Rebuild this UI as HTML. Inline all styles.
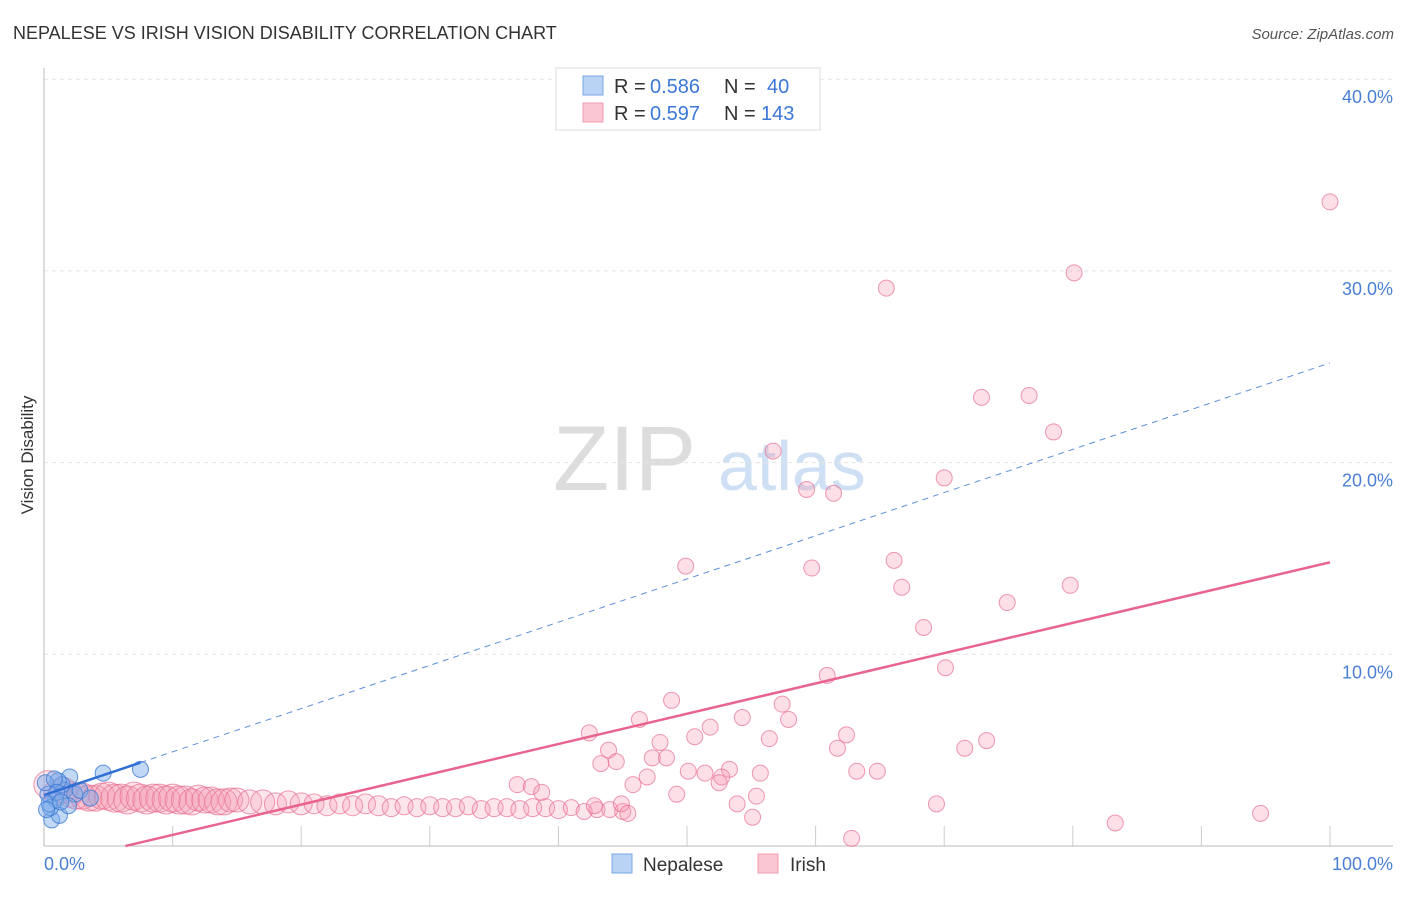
<!DOCTYPE html>
<html><head><meta charset="utf-8"><style>
body{margin:0;background:#fff;font-family:"Liberation Sans",sans-serif;}
svg text{font-family:"Liberation Sans",sans-serif;}
</style></head><body>
<svg id="chart" width="1406" height="892">
<text x="13" y="39" font-size="18" fill="#333">NEPALESE VS IRISH VISION DISABILITY CORRELATION CHART</text>
<text x="1394" y="39" font-size="15" fill="#555" font-style="italic" text-anchor="end">Source: ZipAtlas.com</text>
<text x="33" y="455" font-size="17" fill="#333" transform="rotate(-90 33 455)" text-anchor="middle">Vision Disability</text>
<text x="553" y="490" font-size="92" fill="#ddd" font-family="Liberation Serif">ZIP</text>
<text x="718" y="490" font-size="70" fill="#cfe0f4">atlas</text>
<g id="grid"></g><g id="ticks"></g>
<line x1="44" y1="68" x2="44" y2="846" stroke="#bbb"/>
<line x1="44" y1="846" x2="1393" y2="846" stroke="#bbb"/>
<g id="irish"></g><g id="nepal"></g><g id="trends"></g>
<text x="44" y="870" font-size="18" fill="#4a7fd4">0.0%</text>
<text x="1393" y="870" font-size="18" fill="#4a7fd4" text-anchor="end">100.0%</text>
<g>
<rect x="556" y="68" width="264" height="62" fill="#fff" stroke="#ddd"/>
<rect x="583" y="76" width="20" height="19" fill="#b9d3f5" stroke="#7aa6e6"/>
<rect x="583" y="103" width="20" height="19" fill="#fbc6d4" stroke="#f09ab1"/>
<text x="614" y="93" font-size="20" fill="#333">R = </text><text x="650" y="93" font-size="20" fill="#3b78d8">0.586</text>
<text x="724" y="93" font-size="20" fill="#333">N = </text><text x="767" y="93" font-size="20" fill="#3b78d8">40</text>
<text x="614" y="120" font-size="20" fill="#333">R = </text><text x="650" y="120" font-size="20" fill="#3b78d8">0.597</text>
<text x="724" y="120" font-size="20" fill="#333">N = </text><text x="761" y="120" font-size="20" fill="#3b78d8">143</text>
</g>
<g>
<rect x="612" y="854" width="20" height="19" fill="#b9d3f5" stroke="#7aa6e6"/>
<text x="643" y="871" font-size="19" fill="#333">Nepalese</text>
<rect x="758" y="854" width="20" height="19" fill="#fbc6d4" stroke="#f09ab1"/>
<text x="790" y="871" font-size="19" fill="#333">Irish</text>
</g>
</svg>
<script>
const yTicks=[10,20,30,40];
const yTickLabels=["10.0%","20.0%","30.0%","40.0%"];
const xTicks=[0,10,20,30,40,50,60,70,80,90,100];
const irishX=[100,80.1,65.5,72.9,76.6,78.5,56.7,70.0,59.3,61.4,49.9,59.7,66.1,66.7,74.9,79.8,68.4,60.9,70.1,48.8,46.3,54.3,57.4,57.9,51.8,42.4,50.6,56.4,62.4,73.3,71.6,61.7,43.9,47.9,48.4,43.3,44.5,47.3,50.1,51.4,53.3,52.7,52.5,55.7,63.2,64.8,46.9,45.8,36.8,37.9,38.7,49.2,55.4,53.9,69.4,44.9,42.8,45.4,55.1,62.8,83.3,94.6];
const irishY=[33.6,29.9,29.1,23.4,23.5,21.6,20.6,19.2,18.6,18.4,14.6,14.5,14.9,13.5,12.7,13.6,11.4,8.9,9.3,7.6,6.6,6.7,7.4,6.6,6.2,5.9,5.7,5.6,5.8,5.5,5.1,5.1,5.0,5.4,4.6,4.3,4.4,4.6,3.9,3.8,4.0,3.6,3.3,3.8,3.9,3.9,3.6,3.2,3.2,3.1,2.8,2.7,2.6,2.2,2.2,2.2,2.1,1.7,1.5,0.4,1.2,1.7];
const bandX=[0.3,1,1.5,2,2.5,3,3.5,4,4.5,5,5.5,6,6.5,7,7.5,8,8.5,9,9.5,10,10.5,11,11.5,12,12.5,13,13.5,14,14.5,15,16,17,18,19,20,21,22,23,24,25,26,27,28,29,30,31,32,33,34,35,36,37,38,39,40,41,42,43,44,45];
const bandY=[3.2,2.8,2.9,2.7,2.6,2.6,2.5,2.5,2.6,2.6,2.5,2.5,2.4,2.6,2.5,2.4,2.5,2.5,2.4,2.5,2.4,2.4,2.3,2.5,2.4,2.4,2.3,2.3,2.4,2.4,2.3,2.3,2.2,2.3,2.2,2.2,2.1,2.2,2.1,2.2,2.1,2.0,2.1,2.0,2.1,2.0,2.0,2.1,1.9,2.0,2.0,1.9,2.0,2.0,1.9,2.0,1.8,1.9,1.9,1.8];
const bandR=[14,13,13,13,13,13,13,13,13,14,14,14,14,14,14,14,14,14,14,14,14,14,13,13,13,13,13,13,12,12,12,12,11,11,11,10,10,10,10,10,10,9,9,9,9,9,9,9,9,9,9,9,9,9,9,8,8,8,8,8];
const nepX=[0.6,1.2,2.0,1.6,0.9,0.3,1.4,2.4,1.9,1.1,0.5,2.8,0.1,3.6,0.4,0.8,1.0,0.2,1.3,4.6,7.5];
const nepY=[1.36,1.6,3.6,2.9,2.4,2.7,3.2,2.7,2.1,3.4,2.0,2.9,3.3,2.5,2.2,3.5,2.8,1.9,2.3,3.8,4.0];
const irishTrend=[-1.0,14.8];
const nepTrend=[2.66,25.2];
const X=v=>44+v*12.86, Y=v=>846-v*19.17;
const NS="http://www.w3.org/2000/svg";
function mk(t,a,p){const e=document.createElementNS(NS,t);for(const k in a)e.setAttribute(k,a[k]);p.appendChild(e);return e;}
const grid=document.getElementById('grid'),ticks=document.getElementById('ticks');
yTicks.forEach((v,i)=>{
 const l=mk('line',{x1:44,x2:1393,y1:Y(v),y2:Y(v),stroke:'#e4e4e4','stroke-dasharray':'4,4'},grid);
 
 
 const t=mk('text',{x:1393,y:Y(v)+24,'font-size':18,fill:'#4a7fd4','text-anchor':'end'},grid);
 t.textContent=yTickLabels[i];
 
 
});
xTicks.forEach(v=>{
 const l=mk('line',{x1:X(v),x2:X(v),y1:826,y2:846,stroke:'#ccc'},ticks);
 
 
});
const ig=document.getElementById('irish');
bandX.forEach((x,i)=>{
 const c=mk('circle',{cx:X(x),cy:Y(bandY[i]),r:bandR[i],fill:'rgba(245,150,175,0.25)',stroke:'rgba(232,110,145,0.7)'},ig);
 
 
});
irishX.forEach((x,i)=>{
 const c=mk('circle',{cx:X(x),cy:Y(irishY[i]),r:8,fill:'rgba(245,150,175,0.3)',stroke:'rgba(232,110,145,0.7)'},ig);
 
 
});
const ng=document.getElementById('nepal');
nepX.forEach((x,i)=>{
 const c=mk('circle',{cx:X(x),cy:Y(nepY[i]),r:8,fill:'rgba(120,170,235,0.45)',stroke:'rgba(60,120,210,0.8)'},ng);
 
 
});
const tg=document.getElementById('trends');
const x0=(0-irishTrend[0])/((irishTrend[1]-irishTrend[0])/100);
let l=mk('line',{x1:X(x0),y1:Y(0),x2:X(100),y2:Y(irishTrend[1]),stroke:'#e8648e','stroke-width':2.5},tg);


const nAt=x=>nepTrend[0]+(nepTrend[1]-nepTrend[0])*x/100;
l=mk('line',{x1:X(0),y1:Y(nAt(0)),x2:X(7.5),y2:Y(nAt(7.5)),stroke:'#2f6fd6','stroke-width':2.5},tg);


l=mk('line',{x1:X(7.5),y1:Y(nAt(7.5)),x2:X(100),y2:Y(nAt(100)),stroke:'#5a8fdc','stroke-width':1,'stroke-dasharray':'6,5'},tg);


</script>
</body></html>
